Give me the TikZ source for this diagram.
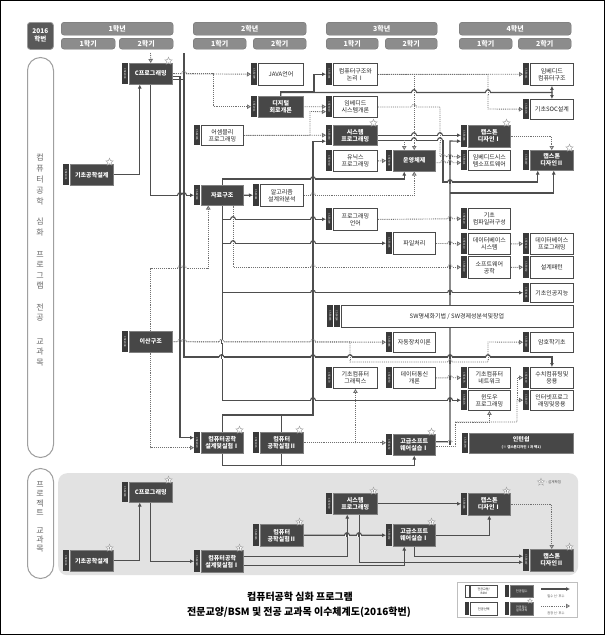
\documentclass[tikz,border=0pt]{standalone}
\usepackage{fontspec}
\setmainfont{Noto Sans CJK KR}
\usetikzlibrary{arrows.meta,shapes.geometric,calc}
\pgfdeclarelayer{back}\pgfdeclarelayer{lines}\pgfdeclarelayer{hoplayer}
\pgfsetlayers{back,lines,hoplayer,main}
\definecolor{darkc}{HTML}{474747}
\definecolor{tabc}{HTML}{3A3A3A}
\definecolor{boxc}{HTML}{4A4A4A}
\definecolor{hdr}{HTML}{8C8C8C}
\definecolor{linec}{HTML}{4E4E4E}
\definecolor{dotc}{HTML}{707070}
\definecolor{panel}{HTML}{E2E2E2}
\tikzset{
 base/.style={inner sep=0pt, align=center, font=\fontsize{6}{7}\selectfont},
 selbox/.style={base, draw=boxc, line width=0.9pt, fill=white, text=black!85},
 reqbox/.style={base, draw=black!50, line width=0.5pt, fill=darkc, text=white, font=\bfseries\fontsize{6}{7}\selectfont},
 tabst/.style={inner sep=0pt, fill=tabc, minimum width=6pt, text=white, font=\fontsize{2.6}{3}\selectfont},
 req/.style={draw=linec, line width=1.1pt, -{Latex[length=4pt,width=4pt]}},
 rec/.style={draw=dotc, line width=0.9pt, densely dotted, -{Triangle[open,length=4pt,width=4.5pt]}},
 reqline/.style={draw=linec, line width=1.1pt},
 hs/.style={draw=linec, line width=1.1pt},
 hd/.style={draw=dotc, line width=0.9pt, densely dotted},
 hdrbox/.style={fill=hdr, draw=hdr!80!black, line width=0.4pt, rounded corners=3pt, text=white, inner sep=0pt, font=\bfseries\fontsize{7}{8}\selectfont, anchor=north west},
 pillst/.style={draw=gray!75, line width=1pt, rounded corners=13pt, fill=white, inner sep=0pt, anchor=north west},
 pilltx/.style={align=center, text=black!60, inner sep=0pt},
 starst/.style={star, star points=5, star point ratio=2.2, minimum size=7.5pt, inner sep=0pt, draw=gray!70, fill=white, line width=0.5pt, font=\fontsize{3}{3}\selectfont, text=black},
}
\newcommand\crs[8]{%
 \pgfmathsetmacro\hh{#5-#3}%
 \pgfmathsetmacro\ww{#4-#2-7}%
 \node[tabst, minimum height=\hh pt, anchor=north west] (#1t) at (#2,#3) {\rotatebox{-90}{#7}};
 \node[#6, minimum width=\ww pt, minimum height=\hh pt, anchor=north west] (#1) at (#2+7,#3) {#8};
}
\newcommand\dstar[2]{\node[starst] (#1s) at ([xshift=-4pt,yshift=2pt]#1.north east) {#2};}
\newcommand\hop[4]{%
 \fill[white] (#1-2.3,#2-1.5) rectangle (#1+2.3,#2+1.5);
 \draw[#4] (#1,#2-2) -- (#1,#2+2);
 \draw[#3] (#1-2.3,#2) arc[start angle=180,end angle=360,radius=2.3];
}
\begin{document}
\begin{tikzpicture}[x=1pt,y=-1pt]
\useasboundingbox (0,0) rectangle (605,635);
\draw[line width=1pt] (0.5,0.5) rectangle (604.5,634.5);
% header
\node[hdrbox, fill=black!65, draw=black!40, line width=0.8pt, minimum width=26pt, minimum height=27pt, align=center, font=\bfseries\fontsize{6.5}{8}\selectfont] (hak) at (27,22) {2016\\학번};
\node[hdrbox, minimum width=112pt, minimum height=13pt] (y1) at (61,22) {1학년};
\node[hdrbox, minimum width=113pt, minimum height=13pt] (y2) at (193,22) {2학년};
\node[hdrbox, minimum width=111pt, minimum height=13pt] (y3) at (326,22) {3학년};
\node[hdrbox, minimum width=112pt, minimum height=13pt] (y4) at (459,22) {4학년};
\node[hdrbox, minimum width=54pt, minimum height=11pt] (s11) at (61,38) {1학기};
\node[hdrbox, minimum width=54pt, minimum height=11pt] (s12) at (119,38) {2학기};
\node[hdrbox, minimum width=53pt, minimum height=11pt] (s21) at (193,38) {1학기};
\node[hdrbox, minimum width=53pt, minimum height=11pt] (s22) at (253,38) {2학기};
\node[hdrbox, minimum width=52pt, minimum height=11pt] (s31) at (326,38) {1학기};
\node[hdrbox, minimum width=52pt, minimum height=11pt] (s32) at (385,38) {2학기};
\node[hdrbox, minimum width=53pt, minimum height=11pt] (s41) at (459,38) {1학기};
\node[hdrbox, minimum width=53pt, minimum height=11pt] (s42) at (518,38) {2학기};
% pills
\node[pillst, minimum width=26pt, minimum height=400pt] (pill1) at (27,57) {};
\node[pillst, minimum width=26pt, minimum height=110pt] (pill2) at (27,468) {};
\node[pilltx, font=\fontsize{8}{11}\selectfont] (pa) at (40,179.5) {컴\\퓨\\터\\공\\학};
\node[pilltx, font=\fontsize{8}{10.5}\selectfont] (pb) at (40,227) {심\\화};
\node[pilltx, font=\fontsize{8}{10.5}\selectfont] (pc) at (40,270.5) {프\\로\\그\\램};
\node[pilltx, font=\fontsize{8}{10.5}\selectfont] (pd) at (40,312.5) {전\\공};
\node[pilltx, font=\fontsize{8}{10.5}\selectfont] (pe) at (40,352) {교\\과\\목};
\node[pilltx, font=\fontsize{8}{9.2}\selectfont] (pf) at (40,498.5) {프\\로\\젝\\트};
\node[pilltx, font=\fontsize{8}{9.2}\selectfont] (pg) at (40,540) {교\\과\\목};
% gray panel
\begin{pgfonlayer}{back}
\node[fill=panel, rounded corners=9pt, minimum width=520pt, minimum height=102pt, anchor=north west, inner sep=0pt] (panelbg) at (58,473) {};
\end{pgfonlayer}
% courses top
\crs{cprog}{122}{63}{172}{84}{reqbox}{CSE2003}{C프로그래밍}
\crs{gicho}{63}{164}{113}{185}{reqbox}{CSE1001}{기초공학설계}
\crs{java}{251}{63}{303}{85}{selbox}{CSE2009}{JAVA언어}
\crs{digital}{251}{96}{303}{117}{reqbox}{CSE2011}{디지털\\회로개론}
\crs{comparch}{326}{63}{377}{85}{selbox}{CSE3001}{컴퓨터구조와\\논리Ⅰ}
\crs{embsys}{326}{96}{377}{117}{selbox}{CSE3010}{임베디드\\시스템개론}
\crs{asm}{194}{125}{243}{145}{selbox}{CSE2005}{어셈블리\\프로그래밍}
\crs{sysprog}{326}{125}{377}{145}{reqbox}{CSE3030}{시스템\\프로그래밍}
\crs{unix}{326}{150}{377}{171}{selbox}{CSE3040}{유닉스\\프로그래밍}
\crs{os}{386}{150}{435}{171}{reqbox}{CSE3008}{운영체제}
\crs{embsw}{461}{150}{510}{170}{selbox}{CSE4101}{임베디드시스\\템소프트웨어}
\crs{capa}{461}{125}{510}{147}{reqbox}{CSE4186}{캡스톤\\디자인Ⅰ}
\crs{capb}{523}{150}{573}{170}{reqbox}{CSE4187}{캡스톤\\디자인Ⅱ}
\crs{embca}{523}{63}{573}{85}{selbox}{CSE4011}{임베디드\\컴퓨터구조}
\crs{soc}{523}{99}{573}{119}{selbox}{CSE4174}{기초SOC설계}
\crs{ds}{194}{185}{243}{205}{reqbox}{CSE2004}{자료구조}
\crs{algo}{253}{184}{303}{206}{selbox}{CSE3081}{알고리즘\\설계와분석}
\crs{pl}{326}{208}{377}{230}{selbox}{CSE3009}{프로그래밍\\언어}
\crs{file}{386}{232}{435}{254}{selbox}{CSE3005}{파일처리}
\crs{compiler}{461}{208}{510}{229}{selbox}{CSE4120}{기초\\컴파일러구성}
\crs{db}{461}{233}{510}{254}{selbox}{CSE4110}{데이터베이스\\시스템}
\crs{dbprog}{523}{233}{573}{254}{selbox}{CSE4112}{데이터베이스\\프로그래밍}
\crs{se}{461}{256}{510}{278}{selbox}{CSE4130}{소프트웨어\\공학}
\crs{pattern}{523}{256}{573}{278}{selbox}{CSE4152}{설계패턴}
\crs{ai}{523}{283}{573}{302}{selbox}{CSE4185}{기초인공지능}
\node[tabst, minimum height=22pt, anchor=north west] (swt1) at (327,305) {\rotatebox{-90}{CSE4183}};
\node[tabst, minimum height=22pt, anchor=north west] (swt2) at (333.5,305) {\rotatebox{-90}{CSE4184}};
\node[selbox, minimum width=232pt, minimum height=22pt, anchor=north west] (sw) at (340.5,305) {SW명세화기법 / SW경제성분석및창업};
\crs{discrete}{122}{331}{172}{352}{reqbox}{CSE2008}{이산구조}
\crs{automata}{386}{332}{435}{352}{selbox}{CSE3085}{자동장치이론}
\crs{crypto}{523}{332}{573}{352}{selbox}{CSE4180}{암호학기초}
\crs{graphics}{326}{367}{377}{388}{selbox}{CSE4170}{기초컴퓨터\\그래픽스}
\crs{datacom}{386}{367}{435}{388}{selbox}{CSE4050}{데이터통신\\개론}
\crs{network}{461}{367}{510}{388}{selbox}{CSE4175}{기초컴퓨터\\네트워크}
\crs{numeric}{523}{367}{573}{388}{selbox}{CSE4140}{수치컴퓨팅및\\응용}
\crs{window}{461}{390}{510}{410}{selbox}{CSE4176}{윈도우\\프로그래밍}
\crs{internet}{523}{390}{573}{410}{selbox}{CSE4177}{인터넷프로그\\래밍및응용}
\crs{design1}{194}{432}{243}{453}{reqbox}{CSE2020}{컴퓨터공학\\설계및실험Ⅰ}
\crs{lab2}{253}{432}{303}{453}{reqbox}{CSE3015}{컴퓨터\\공학실험Ⅱ}
\crs{adv}{386}{434}{435}{455}{reqbox}{CSE4152}{고급소프트\\웨어실습Ⅰ}
\crs{intern}{462}{433}{573}{453}{reqbox}{CSE4190}{인턴쉽\\{\fontsize{3.5}{5}\selectfont(※ 캡스톤디자인Ⅰ과 택1)}}
% courses bottom
\crs{bcprog}{122}{482}{172}{502}{reqbox}{CSE2003}{C프로그래밍}
\crs{bgicho}{63}{550}{113}{571}{reqbox}{CSE1001}{기초공학설계}
\crs{bdesign1}{194}{550}{243}{572}{reqbox}{CSE2020}{컴퓨터공학\\설계및실험Ⅰ}
\crs{blab2}{253}{524}{303}{546}{reqbox}{CSE3015}{컴퓨터\\공학실험Ⅱ}
\crs{bsys}{326}{493}{377}{514}{reqbox}{CSE3030}{시스템\\프로그래밍}
\crs{badv}{386}{524}{435}{546}{reqbox}{CSE4152}{고급소프트\\웨어실습Ⅰ}
\crs{bcapa}{461}{493}{510}{515}{reqbox}{CSE4186}{캡스톤\\디자인Ⅰ}
\crs{bcapb}{523}{549}{573}{571}{reqbox}{CSE4187}{캡스톤\\디자인Ⅱ}
% stars
\dstar{cprog}{}\dstar{gicho}{}\dstar{sysprog}{}\dstar{capa}{}\dstar{capb}{}\dstar{design1}{}\dstar{lab2}{}\dstar{adv}{}
\dstar{bcprog}{3}\dstar{bgicho}{3}\dstar{bsys}{3}\dstar{bcapa}{3}\dstar{bcapb}{3}\dstar{bdesign1}{3}\dstar{blab2}{3}\dstar{badv}{3}
\node[starst] (lgst) at (541,482) {3};
\node[anchor=west, inner sep=0pt, font=\fontsize{3.5}{4}\selectfont, text=black!70] (lgtx) at (546,482) {: 설계학점};
% connectors
\begin{pgfonlayer}{lines}
\coordinate (cin) at (150.5,53);
\coordinate (ctop) at (184,53);
\draw[rec] (cin) -- (cprog.north);
\draw[req] (gicho.east) -| ([xshift=-11pt]cprog.south);
\draw[req] (cprog.south) |- (dst.west);
\draw[rec] (cprog.east) -- (javat.west);
\draw[rec] (cprog.east) -| (213,90) |- (digitalt.west);
\draw[req] ([yshift=-3pt]cprog.east) -| (180,300) |- ([yshift=5pt]design1t.west);
\draw[req] ([yshift=-6pt]cprog.east) -| (184,357) -| (numeric.north);
\draw[reqline] (ctop) -- (184,80);
\draw[req] (digital.north) |- (314,92) |- (comparcht.west);
\coordinate (socmid) at ($(embca.south)!.5!(soc.north)$);
\draw[req] (digital.north) |- (socmid) -- (embca.south);
\draw[req] (socmid) -- (soc.north);
\draw[rec] (digital.east) -- (embsyst.west);
\draw[rec] (comparch.east) -- (embcat.west);
\draw[rec] (comparch.east) -| (os.north);
\draw[rec] (comparch.east) -| (488,109) -- (soct.west);
\draw[rec] (asm.east) -- (sysprogt.west);
\draw[rec] (asm.east) -| (310,111.5) -- ([yshift=-5pt]embsyst.west);
\draw[req] (design1.north) |- (313,415) |- ([yshift=-6pt]sysprogt.west);
\draw[reqline] (lab2.north) -- ++(0,-17);
\draw[req] (sysprog.east) -- (sysprog.east -| capat.west);
\draw[req] ([yshift=-5pt]sysprog.east) -| (443,182) -| ([xshift=-14pt]capb.south);
\draw[rec] ($(os.north)+(-10,-10)$) -- ($(os.north)+(-10,0)$);
\draw[rec] (embsys.east) -| (440,156.5) -- ([yshift=3.5pt]embswt.west);
\draw[rec] (unix.east) -- (ost.west);
\draw[rec] ([yshift=-2pt]os.east) -- ([yshift=-2.5pt]embswt.west);
\draw[rec] (capa.east) -| (capb.north);
\draw[req] ([yshift=3pt]adv.east) -| (450,141) -- ([yshift=-5pt]capat.west);
\coordinate (busb) at (450,193);
\draw[req] (busb) -| ([xshift=2pt]capb.south);
\draw[req] (ds.north) -- ++(0,-6) -| ([xshift=-10pt]os.south);
\draw[rec] (algo.east) -| (os.south);
\draw[req] (ds.east) -- (algot.west);
\draw[req] (ds.south) |- (plt.west);
\draw[req] (ds.south) |- (filet.west);
\draw[req] (ds.south) |- (ait.west);
\draw[req] (ds.south) |- (windowt.west);
\draw[rec] ([xshift=11pt]ds.south) |- (set.west);
\draw[rec] (discrete.north) -- ++(0,-63) -| ([xshift=-14pt]ds.south);
\draw[rec] (discrete.east) -- (automatat.west);
\draw[rec] (discrete.east) -| (350,362) -| (488,342) -- (cryptot.west);
\draw[rec] (discrete.south) |- ([yshift=-5pt]design1t.west);
\draw[rec] (pl.east) -- (compilert.west);
\draw[rec] (file.east) -- (dbt.west);
\draw[rec] (db.east) -- (dbprogt.west);
\draw[rec] (se.east) -- (patternt.west);
\draw[rec] (datacom.east) -- (networkt.west);
\draw[rec] (lab2.east) -- (lab2.east -| advt.west);
\draw[rec] (lab2.east) -| (graphics.south);
\draw[req] (design1.south) -- ++(0,12) -| (adv.south);
\draw[reqline] (lab2.south) -- ++(0,12);
\draw[rec] ([yshift=-2pt]adv.east) -| (455,422) -| (window.south);
\draw[rec] (455,422) -| (517,400) -- (internett.west);
\draw[rec] (517,400) |- (numerict.west);
% bottom panel
\draw[req] (bgicho.east) -| ([xshift=-11pt]bcprog.south);
\draw[req] (bcprog.south) |- (bdesign1t.west);
\draw[req] ([yshift=5pt]bdesign1.east) -| ([xshift=-8pt]bsys.south);
\draw[req] ([yshift=-4pt]bdesign1.east) -| ([xshift=-10pt]badv.south);
\draw[req] (blab2.east) -- (badvt.west);
\draw[req] (bsys.east) -- (bsys.east -| bcapat.west);
\draw[req] ([xshift=4pt]bsys.south) |- ([yshift=-2pt]bcapbt.west);
\draw[req] (badv.south) |- ([yshift=4pt]bcapbt.west);
\draw[req] (badv.east) -| (bcapa.south);
\draw[rec] (bcapa.east) -| (bcapb.north);
\end{pgfonlayer}
% line hops
\begin{pgfonlayer}{hoplayer}
\hop{184}{73.5}{hd}{hs}
\hop{414}{92}{hs}{hd}\hop{488}{92}{hs}{hd}
\hop{414}{106.5}{hd}{hd}
\hop{414}{135}{hs}{hd}\hop{440}{135}{hs}{hd}
\hop{414}{140}{hs}{hd}\hop{440}{140}{hs}{hd}
\hop{443}{156.5}{hd}{hs}\hop{450}{156.5}{hd}{hs}
\hop{443}{162.5}{hd}{hs}\hop{450}{162.5}{hd}{hs}
\hop{313}{179}{hs}{hs}\hop{450}{182}{hs}{hs}
\hop{180}{195}{hs}{hs}\hop{184}{195}{hs}{hs}
\hop{313}{195}{hd}{hs}
\hop{233}{219}{hs}{hd}\hop{313}{219}{hs}{hs}\hop{450}{218.7}{hd}{hs}
\hop{233}{243}{hs}{hd}\hop{313}{243}{hs}{hs}\hop{450}{243.3}{hd}{hs}
\hop{180}{268}{hd}{hs}\hop{184}{268}{hd}{hs}
\hop{313}{267}{hd}{hs}\hop{450}{267}{hd}{hs}
\hop{313}{292.5}{hs}{hs}\hop{450}{292.5}{hs}{hs}
\hop{180}{341.6}{hd}{hs}\hop{184}{341.6}{hd}{hs}\hop{221.5}{341.6}{hd}{hs}\hop{313}{341.6}{hd}{hs}
\hop{221.5}{357}{hs}{hs}\hop{313}{357}{hs}{hs}\hop{350}{357}{hs}{hd}\hop{450}{357}{hs}{hs}\hop{488}{357}{hs}{hd}
\hop{450}{362}{hd}{hs}
\hop{450}{377.5}{hd}{hs}
\hop{313}{400}{hs}{hs}\hop{450}{400}{hs}{hs}
\hop{450}{442.5}{hd}{hs}
\hop{347}{535}{hs}{hs}\hop{359}{535}{hs}{hs}
\end{pgfonlayer}
% title
\node[font=\bfseries\fontsize{10}{12}\selectfont] (title1) at (300,597) {컴퓨터공학 심화 프로그램};
\node[font=\bfseries\fontsize{10}{12}\selectfont] (title2) at (299,612) {전문교양/BSM 및 전공 교과목 이수체계도(2016학번)};
% legend
\node[draw=gray!50, line width=0.6pt, fill=white, minimum width=120pt, minimum height=35pt, anchor=north west, inner sep=0pt] (legend) at (457,582) {};
\node[draw=boxc, line width=0.6pt, fill=white, minimum width=4pt, minimum height=12pt, anchor=north west, inner sep=0pt] (lg1t) at (465,585) {};
\node[selbox, line width=0.6pt, minimum width=27pt, minimum height=12pt, anchor=north west, font=\fontsize{3}{3.6}\selectfont] (lg1) at (470,585) {전공교양/\\BSM};
\node[tabst, minimum width=4pt, minimum height=12pt, anchor=north west] (lg2t) at (505,585) {};
\node[reqbox, minimum width=23pt, minimum height=12pt, anchor=north west, font=\fontsize{3.2}{4}\selectfont] (lg2) at (510,585) {전공필수};
\node[tabst, minimum width=4pt, minimum height=13pt, anchor=north west] (lg3t) at (465,602) {};
\node[selbox, line width=0.6pt, minimum width=27pt, minimum height=13pt, anchor=north west, font=\fontsize{3.2}{4}\selectfont] (lg3) at (470,602) {전공선택};
\node[tabst, minimum width=4pt, minimum height=13pt, anchor=north west] (lg4t) at (505,602) {};
\node[reqbox, minimum width=23pt, minimum height=13pt, anchor=north west, font=\fontsize{3}{3.6}\selectfont] (lg4) at (510,602) {전공필수\\설계과목};
\node[starst, minimum size=5pt] (lg4s) at (530,601) {};
\coordinate (la1) at (541,589); \coordinate (la2) at (570,589);
\coordinate (lb1) at (541,606); \coordinate (lb2) at (570,606);
\draw[req] (la1) -- (la2);
\draw[rec] (lb1) -- (lb2);
\node[font=\fontsize{3.2}{4}\selectfont, text=black!70] (lat) at (556,596) {필수 선·후수};
\node[font=\fontsize{3.2}{4}\selectfont, text=black!70] (lbt) at (556,613) {권장 선·후수};
\end{tikzpicture}
\end{document}
